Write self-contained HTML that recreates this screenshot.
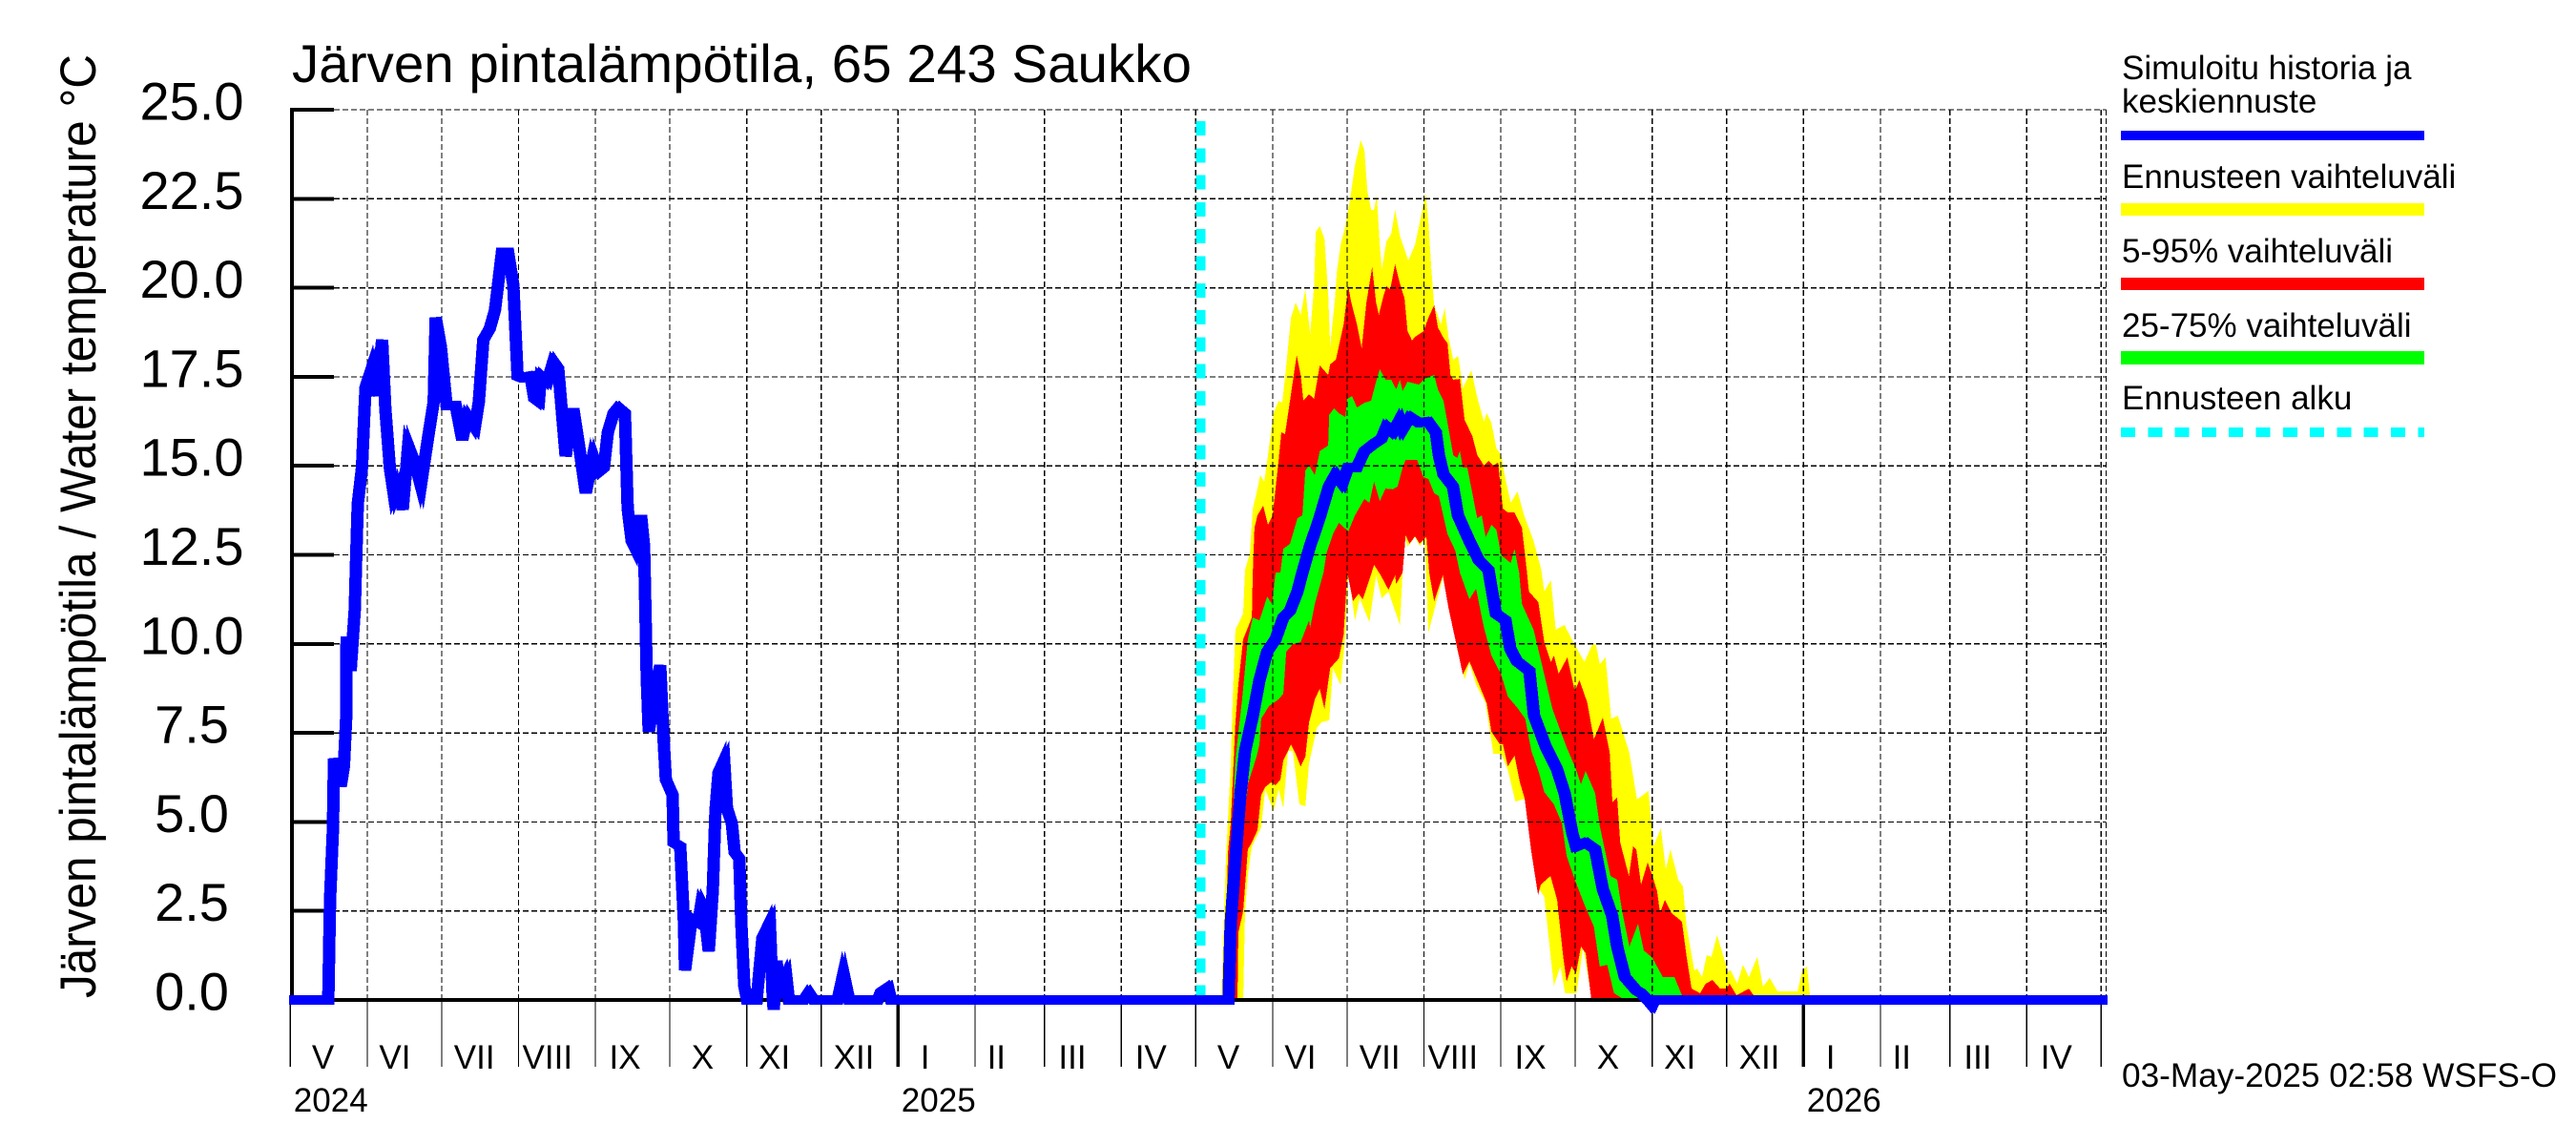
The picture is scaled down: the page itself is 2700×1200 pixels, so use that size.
<!DOCTYPE html>
<html lang="fi">
<head>
<meta charset="utf-8">
<title>Järven pintalämpötila, 65 243 Saukko</title>
<style>
html,body{margin:0;padding:0;background:#fff;}
svg{display:block;}
text{font-family:"Liberation Sans",sans-serif;fill:#000;}
</style>
</head>
<body>
<svg id="chart" xmlns="http://www.w3.org/2000/svg" width="2700" height="1200" viewBox="0 0 2700 1200">
  <rect x="0" y="0" width="2700" height="1200" fill="#ffffff"/>
  <g id="bands"></g>
  <g id="grid"></g>
  <g id="axes"></g>
  <g id="series"></g>
  <g id="labels"></g>
  <text x="306" y="86" font-size="56" textLength="943" lengthAdjust="spacingAndGlyphs">Järven pintalämpötila, 65 243 Saukko</text>
  <text transform="translate(100,1046) rotate(-90)" font-size="53" textLength="989" lengthAdjust="spacingAndGlyphs">Järven pintalämpötila / Water temperature °C</text>
  <g>
    <text x="2224" y="83" font-size="35">Simuloitu historia ja</text>
    <text x="2224" y="118" font-size="35">keskiennuste</text>
    <rect x="2223" y="137" width="318" height="10" fill="#0000ff"/>
    <text x="2224" y="197" font-size="35">Ennusteen vaihteluväli</text>
    <rect x="2223" y="213" width="318" height="13" fill="#ffff00"/>
    <text x="2224" y="275" font-size="35">5-95% vaihteluväli</text>
    <rect x="2223" y="291" width="318" height="13" fill="#ff0000"/>
    <text x="2224" y="353" font-size="35">25-75% vaihteluväli</text>
    <rect x="2223" y="368" width="318" height="14" fill="#00ff00"/>
    <text x="2224" y="429" font-size="35">Ennusteen alku</text>
    <line x1="2223" y1="453" x2="2541" y2="453" stroke="#00ffff" stroke-width="10" stroke-dasharray="15 13.3" shape-rendering="crispEdges"/>
  </g>
  <text x="2224" y="1139" font-size="35" textLength="456" lengthAdjust="spacingAndGlyphs">03-May-2025 02:58 WSFS-O</text>
</svg>
<script>
// ---- Axis categories and ticks ----
const yTickValues = [0, 2.5, 5, 7.5, 10, 12.5, 15, 17.5, 20, 22.5, 25];
const monthLabels = ['V','VI','VII','VIII','IX','X','XI','XII','I','II','III','IV','V','VI','VII','VIII','IX','X','XI','XII','I','II','III','IV'];
const monthLengths = [31,30,31,31,30,31,30,31,31,28,31,30,31,30,31,31,30,31,30,31,31,28,31,30];
const yearLabels = ['2024','2025','2026'];
const yearStartDays = [0, 245, 610];
const forecastStartDay = 367;
const lastDay = 732;

// ---- Simulated history and median forecast (day since 2024-05-01, degrees C) ----
const medianDays = [0,15.3,16,17.2,17.6,20.3,21.6,22.5,22.7,24.3,26,26.4,27.2,28.9,30.3,33.2,34.9,37,38.3,40.1,41.8,43.3,45.3,47.5,50.3,52.6,55.5,57.8,58.6,60.7,63,66.7,69.3,71.4,74.4,76,77.8,80.4,82.5,85.3,87.8,89.9,91.6,93.3,96.8,98.3,100.2,101,103.6,106,108,111,114.1,116.4,119.1,122,124.1,126.4,128,130.3,132.2,134.9,136,137.6,139.5,141.4,142.6,143.3,143.7,144.5,147.2,149.1,150.3,151.4,154.1,154.5,157.2,158.7,159.1,161.8,164.5,165.7,166.8,168.7,170.3,171.4,172.6,174.9,176,178,179.1,181,181.8,183,184.1,188,190.3,193.3,194.5,194.9,196,197.2,199.9,201,207,209,211,220.6,223,225.3,236.8,238,241,242.2,378.2,379.1,381,383,384.9,388,390.7,393.8,397.2,400.3,403,406,408,411,414.9,418.7,421.4,424.1,426.4,429.9,433,436.8,439.9,441.9,444.5,447.2,448.4,451.4,454.9,458.7,461.8,463,464.9,468.7,470.7,475.3,479.1,483,486,489.9,491.8,494.5,499.5,501.4,506,510.6,513.7,516.8,518.3,522.2,526,529.1,532.9,534.9,538,542.6,544.5,547.2,549,550,732];
const medianTemps = [0,0,2.78,4.82,6.78,6,6.56,7.9,10.2,9.24,10.98,12,13.93,14.95,17.2,17.82,16.96,18.54,16.6,14.95,14.15,14.44,13.77,15.57,15.06,14.44,15.78,16.8,19.16,18.34,16.69,16.69,15.73,16.4,16.08,16.8,18.54,18.85,19.37,21,21,20.08,17.52,17.47,17.52,16.9,16.8,17.52,17.36,17.93,17.73,15.27,16.6,15.57,14.24,15.27,14.82,14.95,15.94,16.48,16.64,16.48,13.8,12.89,12.62,13.61,12.73,10.4,9.06,7.53,8.71,9.4,7.53,6.19,5.76,4.42,4.31,2.17,0.83,2.28,2.17,2.71,2.55,1.37,3.08,5.31,6.38,6.73,5.39,4.96,4.15,3.97,2.17,0.4,0,0,1.74,2.17,0.03,-0.27,1.1,0.3,0.7,0,0,0.21,0,0,0.75,0,0,0.21,0.35,0,0,2.17,3.97,5.76,6.99,7.98,8.98,9.78,10.13,10.74,10.93,11.47,12,12.73,13.53,14.42,14.76,14.5,14.95,14.95,15.41,15.62,15.76,16.1,15.94,16.29,16.02,16.37,16.21,16.24,15.94,15.3,14.76,14.42,13.61,12.89,12.35,12.08,10.85,10.66,9.86,9.51,9.24,7.98,7.13,6.48,5.81,4.69,4.31,4.42,4.23,3.11,2.36,1.5,0.64,0.27,0.19,0,-0.15,0,0];

// ---- Full forecast range (yellow) ----
const fullUpperDays = [375.3,376.5,377.2,379.1,379.9,381,384.1,384.9,386.8,388,389.5,391,392.6,393.8,396.4,398.4,399.9,401.5,403.4,405.3,407.3,409.2,411.1,412.7,413.4,415,416.9,418.4,419.2,421.1,421.9,423.4,425.3,427.3,429.2,431.5,433,434.2,435.7,436.9,438,439.2,440,441.9,443.8,445.4,447.3,450.7,453.4,455.3,457.7,458.8,460,461.1,463.8,465.4,466.9,468.8,470.8,472.7,476.1,478.5,481.2,482.3,484.2,486.2,488.1,489.7,492,494.7,497.4,501.2,504.3,505.5,508.2,510.1,513.6,517.8,521.7,524.8,526.3,527.9,530.2,532.5,535.2,539.8,542.9,547.5,549.5,552.5,554.5,556.4,559.5,561.4,562.9,566,567.2,569.1,571,572.9,575.2,579.5,580.6,583.3,585.6,588,591.4,593.7,596.4,599.5,607.6,609.5,611.4,612.6,613.3];
const fullUpperTemps = [0,2.63,3.97,6.65,8.44,10.4,10.85,12.08,12.54,13.8,14.23,14.74,14.55,15.14,16.48,16.83,16.77,17.82,19.16,19.59,19.24,19.96,18.7,20.04,21.57,21.73,21.38,19.86,18.35,19.69,20.44,21.2,21.73,22.53,23.45,24.14,23.87,22.72,22.19,22.19,22.59,21.2,20.53,21.3,21.52,22.19,21.46,20.77,21.2,21.84,22.64,21.84,20.5,19.51,18.97,19.43,18.62,17.98,18.09,17.18,17.68,16.91,16.24,16.48,16.21,15.49,15.3,14.68,13.96,14.28,13.61,12.89,12.08,11.47,11.79,10.4,10.53,9.97,9.49,9.97,9.99,9.43,9.62,7.9,7.98,6.94,5.63,5.87,4.31,4.82,3.67,4.23,3.38,3.19,2.06,0.83,0.88,0.64,1.26,1.21,1.82,0.8,0.83,0.46,0.99,0.64,1.21,0.38,0.62,0.24,0.24,0.83,0.94,0.13,0];
const fullLowerDays = [384.1,384.9,386,387.6,389.5,391.4,393,396.4,398.4,400.3,402.2,404.1,406.8,409.2,410.7,413.8,415.7,418.8,420.3,423.4,425.3,426.5,429.2,431.1,435,437.7,440,442.7,447.3,448.4,449.2,450.4,453.4,455.3,457.3,458.8,464.6,467.7,470.4,473.4,475.3,478,481.9,485,488.1,490.8,493.9,497.8,502.4,505.5,509.4,512,513.9,518.5,521.2,524.7];
const fullLowerTemps = [0,2.49,3.51,4.31,4.58,4.85,5.92,5.31,5.92,5.39,6.99,6.99,5.49,5.44,6.65,7.64,7.8,7.85,9.32,8.84,10.21,12,10.66,11.28,10.61,11.92,11.28,11.47,10.53,12,13.08,12.73,13,12.75,12.94,10.32,11.87,10.85,9.86,9,9.46,8.87,8.33,6.91,6.91,6.46,5.57,5.65,3.24,2.89,0.4,0.94,0.19,0.19,1.5,0];

// ---- 5-95 % range (red) ----
const p95Days = [376.5,378,379.1,381,382.2,384.1,387.6,388,388.7,389.9,392.2,394.1,396,398.4,399.5,401,403,404.1,405.7,407.3,408.4,410.7,412.7,415,418.4,419.2,421.5,424.6,426.5,427.7,430,431.9,433.8,436.1,437.7,438.8,440.7,441.9,443.4,445.4,447.3,449.2,450.4,452.2,453.4,456.8,458.8,461.1,462.6,464.6,466.5,467.7,468.8,471.5,473.4,476.5,478.5,481.2,483,485,486.9,488.8,490.8,493.5,496.5,498.5,499.3,503.1,505.5,508.2,509.4,511.3,514.8,517.8,519.7,522.8,525.5,529.1,531.9,533,534.9,536.1,539.6,541.3,542.6,544.5,547.2,549.1,551,552.2,554.1,556.8,561,562.9,564.9,568.3,570.6,573.3,576.4,579.1,580.2,583,588,589.9,590.6];
const p95Temps = [0,4.15,4.96,7.8,8.87,10.13,10.74,12,13.26,13.61,13.88,13.34,13.61,15.14,15.94,15.89,16.83,17.36,18.11,17.55,16.83,17.01,16.88,17.82,17.55,17.85,17.98,18.97,20.04,19.59,18.97,18.3,19.59,20.58,19.59,19.24,19.77,20.04,19.96,20.66,20.12,19.69,18.78,18.52,18.62,18.78,19.16,19.51,18.89,18.62,18.44,17.55,17.42,17.44,16.29,15.84,15.3,15.01,15.14,15.01,15.09,13.8,13.69,13.69,13.26,12.03,11.47,11.17,10.05,9.49,9.67,9.16,9.62,8.68,8.98,8.36,7.32,7.93,6.94,5.55,5.68,4.42,3.48,4.31,4.23,3.24,3.86,3.48,3.05,2.44,2.81,2.44,2.2,1.21,0.32,0.19,0.46,0.56,0.32,0.32,0.46,0.13,0.32,0.13,0];
const p5Days = [381.8,382.2,384.1,386,387.6,389.9,391.4,393,395.3,397.2,399.1,400.3,402.2,403.4,405.3,407.3,409.2,410.7,413,415,416.9,419.2,422.7,424.6,426.1,428.4,430.7,432.3,435.7,436.9,439.6,442.7,445.4,445.8,448.4,449.6,451.2,453.4,455.3,458,459.1,461.1,464.6,466.9,469.6,472.7,475.3,478.5,482.3,484.2,487.6,488.8,490.8,493.5,495.7,497.6,500.3,503,504.1,508,510.7,513,514.5,516.5,518.3,520.3,522.2,524.5];
const p5Temps = [0,1.9,2.49,4.23,4.42,4.77,5.76,5.98,6.11,6.03,6.19,6.73,6.99,7.18,6.91,6.56,6.83,7.8,8.44,8.74,8.17,9.32,9.59,10.26,12,11.2,11.41,11.25,11.95,12.22,11.92,11.52,11.92,11.68,12,13.05,12.81,13.02,12.81,13,12,11.2,11.92,11.01,10.13,9.14,9.51,8.98,8.33,7.53,7.18,7.18,6.56,6.86,6.11,5.65,4.15,2.95,3.24,3.48,2.81,1.29,0.51,0.94,0.75,1.5,1.31,0];

// ---- 25-75 % range (green) ----
const p75Days = [378,379.1,381,382.2,383.7,386,388,390.7,393.8,395.7,397.2,399.1,400.3,403,406,408,409.2,410.7,413,415,418.4,418.8,420.7,422.7,425.3,426.1,428,430,433,435.7,437.7,439.2,441.5,443.8,445.8,447.3,448.4,450.4,455,457.3,461.1,462.6,464.9,466.5,468.8,470.4,471.5,472.7,474.5,476.5,478.5,480.3,481.9,484.2,486.2,488.1,492,493.5,495.4,496.5,501.2,504.9,508.8,512.6,514.5,518.3,520.3,522.2,526,527.9,532.2,534.9,536.8,539.8,543.3,545.6,549.1,553.3,558,561,562.1];
const p75Temps = [0,3.97,6.73,7.53,8.44,10.13,10.74,10.66,11.33,11.12,12,12,12.67,12.81,13.53,13.61,14.87,15.01,14.74,15.41,15.57,16.43,16.61,16.48,16.37,16.88,16.96,16.64,16.77,16.83,17.36,17.71,17.42,17.42,17.15,17.42,17.1,17.36,17.28,17.44,17.55,17.15,16.83,16.21,15.3,15.22,15.41,14.95,14.95,14.23,13.53,13.61,13,13.34,13.21,12.49,12.27,12.67,12,11.12,10.4,9.32,8.17,7.45,7.1,6.48,6.06,6.43,5.81,4.88,3.48,3.38,2.52,1.5,2.14,1.39,1.18,0.64,0.64,0.13,0];
const p25Days = [380.3,381.8,383.7,385.6,386,389.5,390.7,391.4,394.5,398.4,400.3,401.5,404.1,407.3,410.7,411.1,413,416.5,417.7,420.3,422.7,426.5,429.2,433,435,436.9,439.2,441.5,444.5,446.4,448.4,449.6,454.2,456.8,458.8,461.1,463,466.5,469.6,471.5,475.3,478,481.1,484.2,488.1,490.8,494.7,497.8,500.3,503.4,505.5,509.4,512.6,514.5,517.8,521.7,525.5,527.9,530.9,533.6,536.8,538.7];
const p25Temps = [0,3.51,4.85,5.76,6.06,6.83,7.18,7.9,8.25,8.44,8.6,9.78,9.99,10.05,10.66,10.45,11.12,12,12.54,13.08,13.4,13.16,13.61,14.07,13.96,14.55,14.01,14.36,14.34,14.42,14.95,15.17,15.17,14.68,14.63,14.23,14.15,13.08,12.62,12,11.25,11.55,10.48,9.67,9.14,8.52,8.2,7.9,6.99,6.38,5.84,5.49,4.96,4.05,3.38,2.68,2.06,0.94,0.99,0.19,0.05,0];

// ---- Axis functions ----
function xScale(day) { return 304.3 + day * 2.6; }
function yScale(temp) { return 1048 - temp * 37.32; }

const SVG_NS = 'http://www.w3.org/2000/svg';
function make(parentId, tag, props) {
  const el = document.createElementNS(SVG_NS, tag);
  for (const k in props) el.setAttribute(k, props[k]);
  document.getElementById(parentId).appendChild(el);
  return el;
}
function linePoints(days, temps) {
  return days.map(function (d, i) { return xScale(d).toFixed(1) + ',' + yScale(temps[i]).toFixed(1); });
}
function bandPoints(upD, upT, loD, loT) {
  return linePoints(upD, upT).concat(linePoints(loD, loT).reverse()).join(' ');
}

// ---- Bands ----
const yellowBand = make('bands', 'polygon', {points: bandPoints(fullUpperDays, fullUpperTemps, fullLowerDays, fullLowerTemps), fill: '#ffff00', 'shape-rendering': 'crispEdges'});


const redBand = make('bands', 'polygon', {points: bandPoints(p95Days, p95Temps, p5Days, p5Temps), fill: '#ff0000', 'shape-rendering': 'crispEdges'});


const greenBand = make('bands', 'polygon', {points: bandPoints(p75Days, p75Temps, p25Days, p25Temps), fill: '#00ff00', 'shape-rendering': 'crispEdges'});



// ---- Horizontal grid and y ticks ----
yTickValues.forEach(function (v) {
  const y = yScale(v);
  if (v > 0) {
    const g = make('grid', 'line', {x1: 350, y1: y, x2: xScale(lastDay), y2: y, stroke: '#000', 'stroke-width': 1.3, 'stroke-dasharray': '6 3', 'shape-rendering': 'crispEdges'});
    
    
  }
  const t = make('axes', 'line', {x1: 304, y1: y, x2: 350, y2: y, stroke: '#000', 'stroke-width': 4, 'shape-rendering': 'crispEdges'});
  
  
  const lab = make('labels', 'text', {x: 201, y: y + 10.5, 'font-size': 56, 'text-anchor': 'middle'});
  
  
  lab.textContent = v.toFixed(1);
});

// ---- Months: grid, ticks, labels ----
const LABEL_NUDGE = {V:-6, VI:-10, VII:-6, VIII:-10, IX:-8, X:-6, XI:-10, XII:-6, I:-12, II:-14, III:-11, IV:-8};
let cursor = 0;
monthLabels.forEach(function (name, i) {
  const x = xScale(cursor);
  const len = monthLengths[i];
  if (i > 0) {
    const g = make('grid', 'line', {x1: x, y1: 115, x2: x, y2: 1048, stroke: '#000', 'stroke-width': 1.2, 'stroke-dasharray': '6 3', 'shape-rendering': 'crispEdges'});
    
    
  }
  const isJanuary = name === 'I';
  const tick = make('axes', 'line', {x1: x, y1: 1048, x2: x, y2: 1118, stroke: '#000', 'stroke-width': isJanuary ? 3.5 : 1.2, 'shape-rendering': 'crispEdges'});
  
  
  const lab = make('labels', 'text', {x: x + len * 1.3 + LABEL_NUDGE[name], y: 1120, 'font-size': 35, 'text-anchor': 'middle'});
  
  
  lab.textContent = name;
  cursor += len;
});
const endTick = make('axes', 'line', {x1: xScale(cursor), y1: 1048, x2: xScale(cursor), y2: 1118, stroke: '#000', 'stroke-width': 1.2, 'shape-rendering': 'crispEdges'});


const endGrid = make('grid', 'line', {x1: xScale(cursor), y1: 115, x2: xScale(cursor), y2: 1048, stroke: '#000', 'stroke-width': 1.2, 'stroke-dasharray': '6 3', 'shape-rendering': 'crispEdges'});


const edgeGrid = make('grid', 'line', {x1: xScale(lastDay), y1: 115, x2: xScale(lastDay), y2: 1048, stroke: '#000', 'stroke-width': 1.2, 'stroke-dasharray': '6 3', 'shape-rendering': 'crispEdges'});



// ---- Years ----
yearLabels.forEach(function (name, i) {
  const lab = make('labels', 'text', {x: xScale(yearStartDays[i]) + 3.5, y: 1165, 'font-size': 35});
  
  
  lab.textContent = name;
});

// ---- Axis lines ----
const yAxis = make('axes', 'line', {x1: 306, y1: 113, x2: 306, y2: 1050, stroke: '#000', 'stroke-width': 4, 'shape-rendering': 'crispEdges'});


const xAxis = make('axes', 'line', {x1: 304, y1: yScale(0), x2: xScale(lastDay), y2: yScale(0), stroke: '#000', 'stroke-width': 4, 'shape-rendering': 'crispEdges'});


const yAxisLowerTick = make('axes', 'line', {x1: 304, y1: 1048, x2: 304, y2: 1118, stroke: '#000', 'stroke-width': 1.2, 'shape-rendering': 'crispEdges'});



// ---- Forecast start marker ----
const startLine = make('series', 'line', {x1: xScale(forecastStartDay), y1: 127, x2: xScale(forecastStartDay), y2: 1048, stroke: '#00ffff', 'stroke-width': 10, 'stroke-dasharray': '15 13.3', 'shape-rendering': 'crispEdges'});



// ---- Median line: two passes offset sideways, so steep runs read wider while the flat run stays 10px ----
const medianPoints = linePoints(medianDays, medianTemps).join(' ');
const medianLine = make('series', 'polyline', {points: medianPoints, fill: 'none', stroke: '#0000ff', 'stroke-width': 10, 'stroke-linejoin': 'miter', 'stroke-miterlimit': 5, 'shape-rendering': 'crispEdges', transform: 'translate(-1.5,0)'});


const medianLineRight = make('series', 'polyline', {points: medianPoints, fill: 'none', stroke: '#0000ff', 'stroke-width': 10, 'stroke-linejoin': 'miter', 'stroke-miterlimit': 5, 'shape-rendering': 'crispEdges', transform: 'translate(1.5,0)'});


</script>
</body>
</html>
